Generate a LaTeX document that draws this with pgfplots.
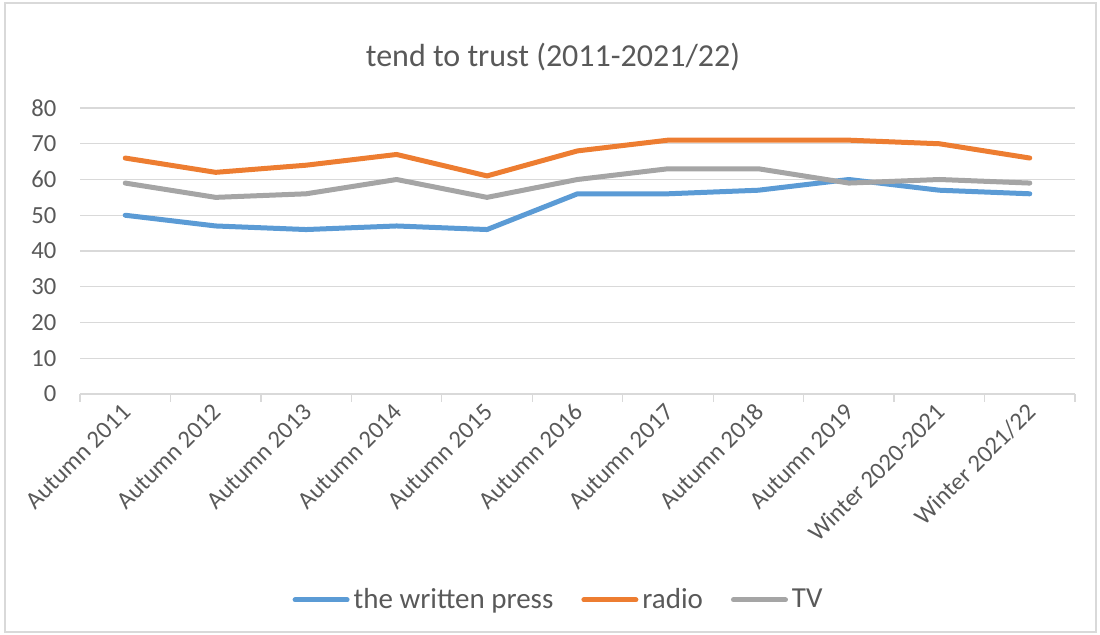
\documentclass[border=0pt]{standalone}
\usepackage{fontspec}
\setmainfont{Carlito}
\usepackage{pgfplots}
\pgfplotsset{compat=1.18}
\definecolor{cblue}{HTML}{5B9BD5}
\definecolor{corange}{HTML}{ED7D31}
\definecolor{cgray}{HTML}{A5A5A5}
\definecolor{ctext}{HTML}{595959}
\definecolor{cgrid}{HTML}{D9D9D9}
\begin{document}
\begin{tikzpicture}[x=0.5pt,y=0.5pt]
\useasboundingbox (0,0) rectangle (1100,635);
\draw[cgrid, line width=0.75pt] (5,3) rectangle (1096,632);
\node[text=ctext, font=\fontsize{16}{19}\selectfont] at (553,578) {tend to trust (2011-2021/22)};
\begin{axis}[
  at={(40pt,120.5pt)}, anchor=south west,
  scale only axis, width=497.5pt, height=143pt,
  xmin=-0.5, xmax=10.5, ymin=0, ymax=80,
  axis x line*=bottom, axis y line*=left,
  x axis line style={draw=cgrid, line width=0.6pt, -},
  y axis line style={draw=none},
  xtick={0,...,10},
  xticklabels={Autumn 2011,Autumn 2012,Autumn 2013,Autumn 2014,Autumn 2015,Autumn 2016,Autumn 2017,Autumn 2018,Autumn 2019,Winter 2020-2021,Winter 2021/22},
  major x tick style={draw=none},
  minor xtick={-0.5,0.5,...,10.5},
  minor x tick style={draw=cgrid, line width=0.6pt},
  minor tick length=4pt,
  tick align=outside,
  ytick={0,10,...,80},
  major y tick style={draw=none},
  ymajorgrids, grid style={draw=cgrid, line width=0.6pt},
  tick label style={text=ctext, font=\fontsize{12.3}{14}\selectfont},
  /pgf/number format/assume math mode=true,
  xticklabel style={rotate=45, anchor=east, xshift=2pt, yshift=-2.5pt},
  yticklabel style={xshift=-4pt},
  every axis plot/.append style={line width=2.5pt, line join=round, line cap=round},
  legend style={at={(0.482,-0.72)}, anchor=center, draw=none, fill=none,
    legend columns=-1, font=\fontsize{14.5}{17}\selectfont, text=ctext,
    /tikz/every even column/.append style={column sep=12pt},
    inner sep=0pt},
  legend image code/.code={\draw[#1] (0pt,0pt) -- (26pt,0pt);},
]
\addplot[cblue] coordinates {(0,50)(1,47)(2,46)(3,47)(4,46)(5,56)(6,56)(7,57)(8,60)(9,57)(10,56)};
\addplot[corange] coordinates {(0,66)(1,62)(2,64)(3,67)(4,61)(5,68)(6,71)(7,71)(8,71)(9,70)(10,66)};
\addplot[cgray] coordinates {(0,59)(1,55)(2,56)(3,60)(4,55)(5,60)(6,63)(7,63)(8,59)(9,60)(10,59)};
\legend{the written press,radio,TV}
\end{axis}
\end{tikzpicture}
\end{document}
